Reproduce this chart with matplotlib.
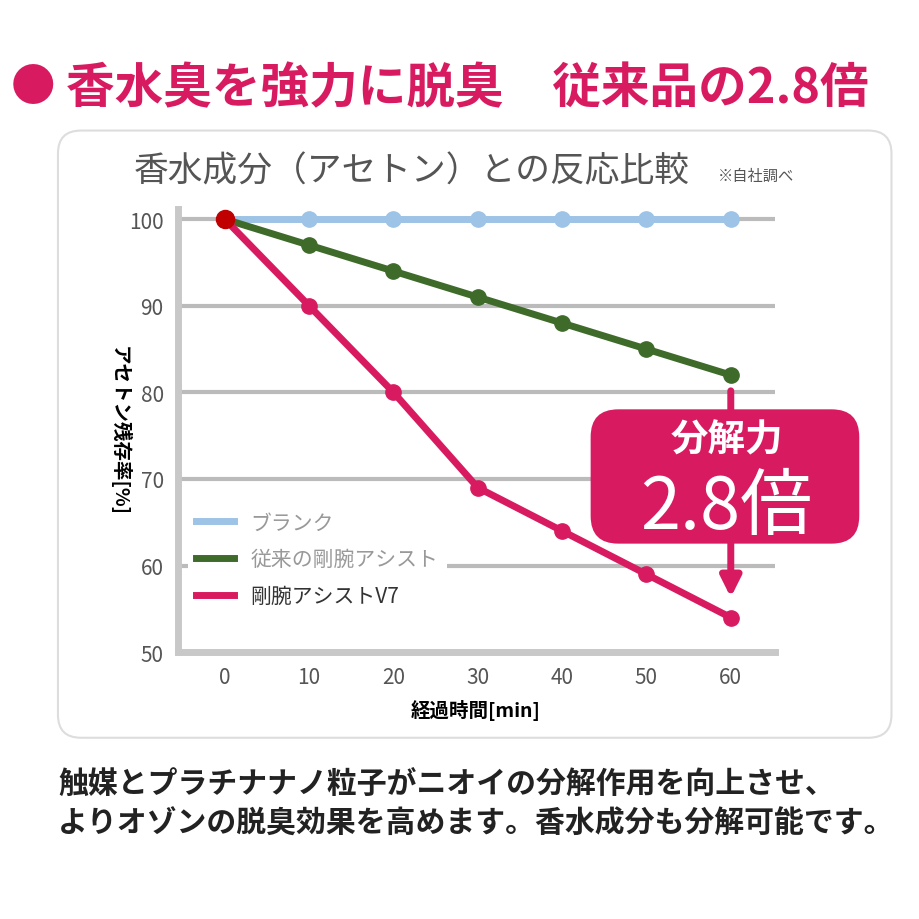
import matplotlib.pyplot as plt
from matplotlib.patches import FancyBboxPatch

plt.rcParams['font.family'] = ['Noto Sans CJK JP', 'DejaVu Sans']

minutes = [0, 10, 20, 30, 40, 50, 60]
blank = [100, 100, 100, 100, 100, 100, 100]
old_assist = [100, 97, 94, 91, 88, 85, 82]
v7 = [100, 90, 80, 69, 64, 59, 54]
labels = ['ブランク', '従来の剛腕アシスト', '剛腕アシストV7']

PINK = '#d81b60'
fig = plt.figure(figsize=(9.2, 9.2), dpi=100)

# panel frame (behind the axes)
panel = FancyBboxPatch((0.063, 0.197), 0.906, 0.66, boxstyle='round,pad=0,rounding_size=0.025',
                       transform=fig.transFigure, facecolor='white', edgecolor='#dddddd', lw=1.5,
                       zorder=-5)
fig.patches.append(panel)

ax = fig.add_axes([0.193, 0.29, 0.649, 0.482])
ax.patch.set_alpha(0)
ax.set_xlim(-5.6, 65.2)
ax.set_ylim(50, 101.2)
ax.set_yticks([50, 60, 70, 80, 90, 100])
ax.set_xticks(minutes)
for y in [60, 70, 80, 90, 100]:
    ax.axhline(y, color='#bbbbbb', lw=3, zorder=1)
for s in ['top', 'right']:
    ax.spines[s].set_visible(False)
for s in ['left', 'bottom']:
    ax.spines[s].set_color('#c8c8c8')
    ax.spines[s].set_linewidth(5)
ax.tick_params(length=0, labelsize=15, labelcolor='#555555', pad=10)

ax.plot(minutes, blank, color='#9dc3e6', lw=5, marker='o', ms=11, label=labels[0], zorder=3)
ax.plot(minutes, old_assist, color='#3e6b2a', lw=5, marker='o', ms=11, label=labels[1], zorder=4)
ax.plot(minutes, v7, color=PINK, lw=5, marker='o', ms=11, label=labels[2], zorder=5)
ax.plot([0], [100], 'o', color='#c00000', ms=13, zorder=6)

leg = ax.legend(loc='lower left', bbox_to_anchor=(0.0, 0.06), fontsize=15, frameon=True,
                facecolor='white', edgecolor='none', framealpha=1, handlelength=1.8, labelspacing=0.7)
for t, c in zip(leg.get_texts(), ['#999999', '#999999', '#333333']):
    t.set_color(c)
for h in leg.get_lines():
    h.set_marker('')

ax.set_ylabel('アセトン残存率[%]', fontsize=14, fontweight='bold')
ax.yaxis.label.set_rotation(270)
ax.yaxis.set_label_coords(-0.115, 0.5)
ax.set_xlabel('経過時間[min]', fontsize=14, fontweight='bold', labelpad=8)

# arrow from old to V7 at 60 min
ax.annotate('', xy=(60, v7[-1] + 2), xytext=(60, old_assist[-1] - 1.5),
            arrowprops=dict(arrowstyle='-|>,head_width=0.6,head_length=1.2', color=PINK, lw=5), zorder=7)

box = FancyBboxPatch((0.642, 0.408), 0.292, 0.146, boxstyle='round,pad=0,rounding_size=0.03',
                     transform=fig.transFigure, facecolor=PINK, edgecolor='none', zorder=8)
fig.patches.append(box)
fig.text(0.79, 0.522, '分解力', color='white', fontsize=27, ha='center', va='center',
         fontweight='bold', zorder=9)
fig.text(0.79, 0.447, '2.8倍', color='white', fontsize=52, ha='center', va='center', zorder=9)

fig.text(0.145, 0.813, '香水成分（アセトン）との反応比較', fontsize=25, color='#555555', ha='left', va='center')
fig.text(0.78, 0.808, '※自社調べ', fontsize=11, color='#555555', ha='left', va='center')

fig.text(0.012, 0.904, '●', fontsize=32, color=PINK, ha='left', va='center')
fig.text(0.072, 0.904, '香水臭を強力に脱臭　従来品の2.8倍', fontsize=35, color=PINK, ha='left', va='center',
         fontweight='bold')

fig.text(0.063, 0.147, '触媒とプラチナナノ粒子がニオイの分解作用を向上させ、', fontsize=21.5,
         fontweight='bold', color='#222222', ha='left', va='center')
fig.text(0.063, 0.105, 'よりオゾンの脱臭効果を高めます。香水成分も分解可能です。', fontsize=21.5,
         fontweight='bold', color='#222222', ha='left', va='center')

fig.savefig('out.png', dpi=100)
